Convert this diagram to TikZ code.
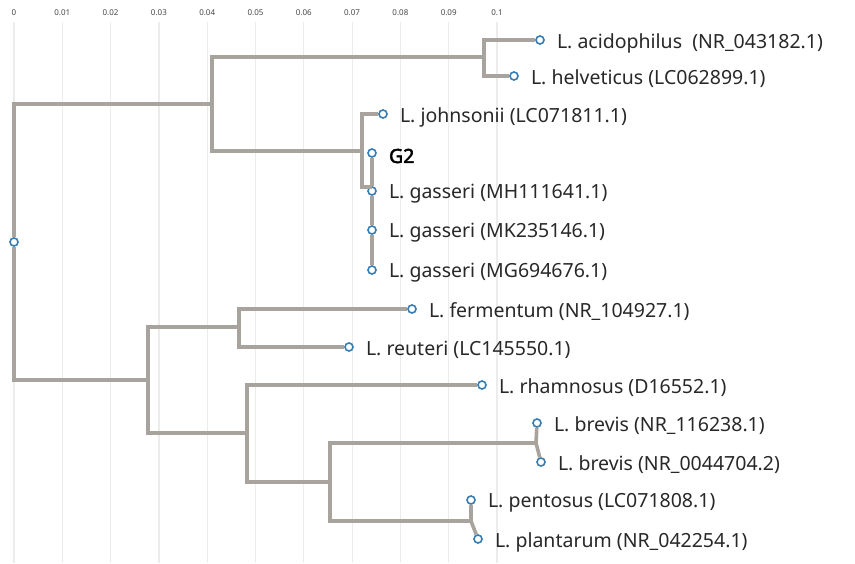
\documentclass[tikz,border=0pt]{standalone}
\usepackage{fontspec}
\setmainfont{Noto Sans}[AutoFakeBold=2.5]
\usetikzlibrary{positioning}

\definecolor{branchgrey}{RGB}{168,163,157}
\definecolor{tipblue}{RGB}{52,124,178}
\definecolor{gridgrey}{RGB}{236,236,236}
\definecolor{labelgrey}{RGB}{40,40,40}

\begin{document}
\begin{tikzpicture}[
    x=1pt, y=-1pt,
    node distance=11pt,
    tipdot/.style={circle, draw=tipblue, fill=white, line width=1.6pt,
      minimum size=8pt, inner sep=0pt},
    taxon/.style={anchor=west, inner sep=1pt, yshift=-3pt, text=labelgrey,
      font=\fontsize{19.5}{23}\selectfont},
    branch/.style={branchgrey, line width=3.6pt},
    gridline/.style={gridgrey, line width=1.2pt},
    scalelab/.style={text=labelgrey!85, font=\fontsize{8}{9}\selectfont}
  ]

  \path[fill=white, use as bounding box] (0,0) rectangle (855,563);

  % distance scale and grid
  \foreach \v [count=\i from 0] in {0,0.01,0.02,0.03,0.04,0.05,0.06,0.07,0.08,0.09,0.1} {
    \draw[gridline] (14+48.3*\i,22) -- (14+48.3*\i,563);
    \node (scale\i) [scalelab] at (14+48.3*\i,13) {\v};
  }

  % layout the tips

  \node (root)  [tipdot] at (14,242)  {};
  \node (acid)  [tipdot] at (540,40)  {};
  \node (helv)  [tipdot] at (514,76)  {};
  \node (john)  [tipdot] at (383,114) {};
  \node (gtwo)  [tipdot] at (372,153) {};
  \node (gasmh) [tipdot] at (372,191) {};
  \node (gasmk) [tipdot] at (372,230) {};
  \node (gasmg) [tipdot] at (372,270) {};
  \node (ferm)  [tipdot] at (412,309) {};
  \node (reut)  [tipdot] at (349,347) {};
  \node (rham)  [tipdot] at (482,385) {};
  \node (brevA) [tipdot] at (537,423) {};
  \node (brevB) [tipdot] at (541,462) {};
  \node (pent)  [tipdot] at (471,500) {};
  \node (plan)  [tipdot] at (478,539) {};

  % names of the strains
  \node (acidlab)  [taxon, right=of acid]  {L. acidophilus\ \ (NR\_043182.1)};
  \node (helvlab)  [taxon, right=of helv]  {L. helveticus (LC062899.1)};
  \node (johnlab)  [taxon, right=of john]  {L. johnsonii (LC071811.1)};
  \node (gtwolab)  [taxon, right=of gtwo, text=black] {\textbf{G2}};
  \node (gasmhlab) [taxon, right=of gasmh] {L. gasseri (MH111641.1)};
  \node (gasmklab) [taxon, right=of gasmk] {L. gasseri (MK235146.1)};
  \node (gasmglab) [taxon, right=of gasmg] {L. gasseri (MG694676.1)};
  \node (fermlab)  [taxon, right=of ferm]  {L. fermentum (NR\_104927.1)};
  \node (reutlab)  [taxon, right=of reut]  {L. reuteri (LC145550.1)};
  \node (rhamlab)  [taxon, right=of rham]  {L. rhamnosus (D16552.1)};
  \node (brevAlab) [taxon, right=of brevA] {L. brevis (NR\_116238.1)};
  \node (brevBlab) [taxon, right=of brevB] {L. brevis (NR\_0044704.2)};
  \node (pentlab)  [taxon, right=of pent]  {L. pentosus (LC071808.1)};
  \node (planlab)  [taxon, right=of plan]  {L. plantarum (NR\_042254.1)};

  % inner nodes of the tree
  \coordinate (top)   at (212,104);
  \coordinate (acihe) at (484,57);
  \coordinate (johga) at (362,151);
  \coordinate (gasse) at (372,187);
  \coordinate (bot)   at (148,380);
  \coordinate (ferre) at (239,327);
  \coordinate (rhabr) at (247,433);
  \coordinate (brepl) at (330,482);
  \coordinate (brevs) at (536,443);
  \coordinate (penpl) at (471,521);

  \draw[branch] (top) -| (root);
  \draw[branch] (bot) -| (root);

  \draw[branch] (acihe) -| (top) |- (johga);
  \draw[branch] (acid) -| (acihe) |- (helv);
  \draw[branch] (john) -| (johga) |- (gasse);
  \draw[branch] (gtwo) -- (gasmh) -- (gasmk) -- (gasmg);

  \draw[branch] (ferre) -| (bot) |- (rhabr);
  \draw[branch] (ferm) -| (ferre) |- (reut);
  \draw[branch] (rham) -| (rhabr) |- (brepl);
  \draw[branch] (brevs) -| (brepl) |- (penpl);
  \draw[branch] (brevA) -- (brevs) -- (brevB);
  \draw[branch] (pent) -- (penpl) -- (plan);

\end{tikzpicture}
\end{document}
